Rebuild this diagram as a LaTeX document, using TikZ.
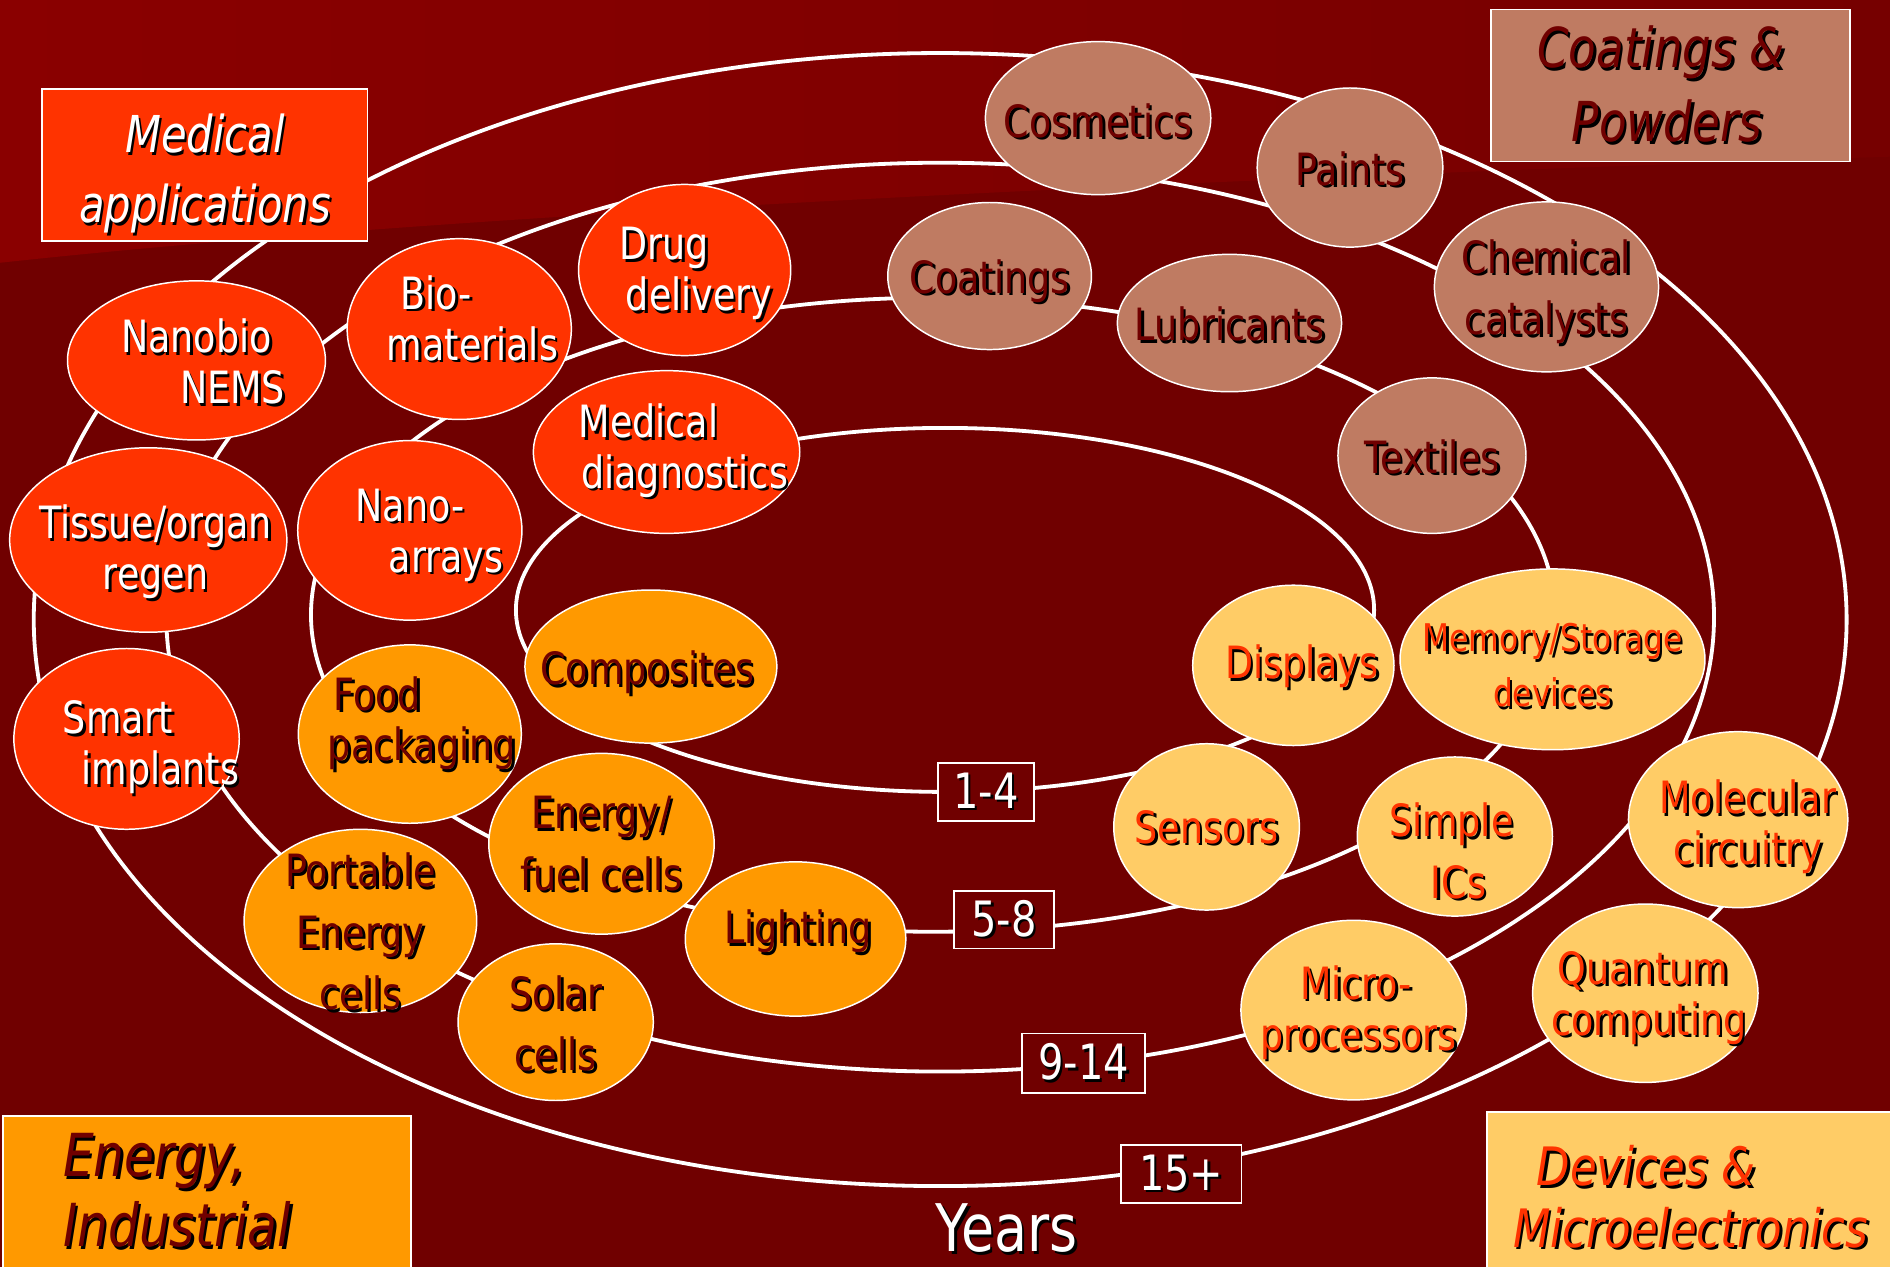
\documentclass[tikz,border=0pt]{standalone}
\usepackage{fontspec}
\setmainfont{DejaVu Sans}[FakeStretch=0.82]
\usetikzlibrary{shapes.geometric}

\definecolor{bgdark}{RGB}{112,0,0}
\definecolor{bgtopL}{RGB}{138,0,0}
\definecolor{bgtopR}{RGB}{118,0,0}
\definecolor{medfill}{RGB}{255,51,0}
\definecolor{coatfill}{RGB}{191,123,98}
\definecolor{enfill}{RGB}{255,153,0}
\definecolor{devfill}{RGB}{255,204,102}
\definecolor{darktxt}{RGB}{112,0,0}
\definecolor{devtxt}{RGB}{255,51,0}

% text with a small drop shadow
\newcommand{\shd}[1]{\rlap{\kern1.2pt\raisebox{-1.2pt}{\textcolor{black}{#1}}}#1}

\tikzset{
  bsize/.style 2 args={minimum width=#1*0.02cm, minimum height=#2*0.02cm},
  ring/.style={ellipse, draw=white, line width=1.8pt, inner sep=0pt},
  bubble/.style={ellipse, draw=white, line width=0.7pt, inner sep=0pt},
  medb/.style={bubble, fill=medfill},
  coatb/.style={bubble, fill=coatfill},
  enb/.style={bubble, fill=enfill},
  devb/.style={bubble, fill=devfill},
  btxt/.style={align=center, inner sep=0pt, font=\fontsize{21}{24}\selectfont},
  medt/.style={btxt, text=white},
  coatt/.style={btxt, text=darktxt},
  ent/.style={btxt, text=darktxt},
  devt/.style={btxt, text=devtxt},
  yearbox/.style={draw=white, line width=0.8pt, fill=bgdark, text=white, inner sep=0pt,
    font=\fontsize{23}{27}\selectfont},
  catbox/.style={draw=white, line width=0.8pt, inner sep=0pt},
  cattxt/.style={align=center, inner sep=0pt},
}

\begin{document}
\begin{tikzpicture}[x=0.02cm, y=-0.02cm]
  \useasboundingbox (0,0) rectangle (1568,1051);
  \clip (0,0) rectangle (1568,1051);
  % background
  \fill[bgdark] (0,0) rectangle (1568,1051);
  \shade[left color=bgtopL, right color=bgtopR] (0,0) -- (0,218)
    .. controls (350,180) and (900,152) .. (1568,130) -- (1568,0) -- cycle;

  % the four year rings
  \node[ring, bsize={712}{302}] (ring14) at (784,506) {};
  \node[ring, bsize={1032}{526}] (ring58) at (774,510) {};
  \node[ring, bsize={1284}{754}] (ring914) at (780,512) {};
  \node[ring, bsize={1504}{940}] (ring15) at (780,514) {};

  % medical applications
  \node[medb, bsize={214}{132}, label={[medt, yshift=-0.04cm]center:{\shd{Nanobio}\\\hspace*{1.2cm}\shd{NEMS}}}] (nanobio) at (163,299) {};
  \node[medb, bsize={186}{150}, label={[medt, xshift=-0.38cm, yshift=0.16cm]center:{\shd{Bio-}\\\hspace*{1.2cm}\shd{materials}}}] (biomat) at (381,273) {};
  \node[medb, bsize={176}{142}, label={[medt, xshift=-0.34cm, yshift=-0.08cm]center:{\shd{Drug}\\\hspace*{1.16cm}\shd{delivery}}}] (drug) at (568,224) {};
  \node[medb, bsize={221}{135}, label={[medt, xshift=-0.3cm]center:{\shd{Medical}\\\hspace*{1.2cm}\shd{diagnostics}}}] (meddiag) at (553,375) {};
  \node[medb, bsize={230}{153}, label={[medt, xshift=0.12cm, yshift=-0.22cm]center:{\shd{Tissue/organ}\\\shd{regen}}}] (tissue) at (123,448) {};
  \node[medb, bsize={186}{149}, label={[medt, yshift=-0.1cm]center:{\shd{Nano-}\\\hspace*{1.2cm}\shd{arrays}}}] (nanoarr) at (340,440) {};
  \node[medb, bsize={187}{150}, label={[medt, xshift=-0.14cm, yshift=-0.16cm]center:{\shd{Smart}\\\hspace*{1.4cm}\shd{implants}}}] (smart) at (105,613) {};

  % coatings & powders
  \node[coatb, bsize={187}{127}, label={[coatt, yshift=-0.06cm]center:{\shd{Cosmetics}}}] (cosmetics) at (911,98) {};
  \node[coatb, bsize={154}{132}, label={[coatt, yshift=-0.04cm]center:{\shd{Paints}}}] (paints) at (1120,139) {};
  \node[coatb, bsize={169}{122}, label={[coatt, yshift=-0.1cm]center:{\shd{Coatings}}}] (coatings) at (821,229) {};
  \node[coatb, bsize={186}{114}, label={[coatt, yshift=-0.04cm]center:{\shd{Lubricants}}}] (lubric) at (1020,268) {};
  \node[coatb, bsize={186}{141}, label={[coatt, yshift=-0.1cm]center:{\shd{Chemical}\\[5pt]\shd{catalysts}}}] (chemcat) at (1283,238) {};
  \node[coatb, bsize={156}{129}, label={[coatt, yshift=-0.04cm]center:{\shd{Textiles}}}] (textiles) at (1188,378) {};

  % energy, industrial
  \node[enb, bsize={209}{127}, label={[ent, xshift=-0.06cm, yshift=-0.12cm]center:{\shd{Composites}}}] (composites) at (540,553) {};
  \node[enb, bsize={185}{148}, label={[ent, xshift=-0.54cm, yshift=0.16cm]center:{\shd{Food}\\\hspace*{1.48cm}\shd{packaging}}}] (food) at (340,609) {};
  \node[enb, bsize={187}{150}, label={[ent, yshift=-0.02cm]center:{\shd{Energy/}\\[5pt]\shd{fuel cells}}}] (fuelcells) at (499,700) {};
  \node[enb, bsize={183}{128}, label={[ent, xshift=0.04cm, yshift=0.1cm]center:{\shd{Lighting}}}] (lighting) at (660,779) {};
  \node[enb, bsize={193}{152}, label={[ent, yshift=-0.2cm]center:{\shd{Portable}\\[5pt]\shd{Energy}\\[5pt]\shd{cells}}}] (portable) at (299,764) {};
  \node[enb, bsize={162}{130}, label={[ent, yshift=-0.04cm]center:{\shd{Solar}\\[5pt]\shd{cells}}}] (solar) at (461,848) {};

  % devices & microelectronics
  \node[devb, bsize={167}{133}, label={[devt, xshift=0.14cm, yshift=-0.04cm]center:{\shd{Displays}}}] (displays) at (1073,552) {};
  \node[devb, bsize={253}{150}, label={[devt, yshift=-0.12cm, font=\fontsize{18}{22}\selectfont]center:{\shd{Memory/Storage}\\[4pt]\shd{devices}}}] (memory) at (1288,547) {};
  \node[devb, bsize={154}{138}, label={[devt, yshift=-0.02cm]center:{\shd{Sensors}}}] (sensors) at (1001,686) {};
  \node[devb, bsize={162}{132}, label={[devt, xshift=-0.06cm, yshift=-0.26cm]center:{\shd{Simple}\\[5pt]\hspace*{0.24cm}\shd{ICs}}}] (simpleics) at (1207,694) {};
  \node[devb, bsize={182}{146}, label={[devt, xshift=0.16cm, yshift=-0.14cm]center:{\shd{Molecular}\\\shd{circuitry}}}] (molecular) at (1442,680) {};
  \node[devb, bsize={187}{149}, label={[devt, xshift=0.04cm, yshift=-0.06cm]center:{\shd{Micro-}\\\hspace*{0.08cm}\shd{processors}}}] (micro) at (1123,838) {};
  \node[devb, bsize={187}{148}, label={[devt, xshift=-0.04cm, yshift=-0.1cm]center:{\shd{Quantum}\\\hspace*{0.2cm}\shd{computing}}}] (quantum) at (1365,824) {};

  % year labels on the rings
  \node[yearbox, bsize={80}{48}] (yr14) at (818,657) {\shd{1-4}};
  \node[yearbox, bsize={83}{48}] (yr58) at (833,763) {\shd{5-8}};
  \node[yearbox, bsize={102}{49}] (yr914) at (899,882) {\shd{9-14}};
  \node[yearbox, bsize={100}{48}] (yr15) at (980,974) {\shd{15+}};
  \node[text=white, inner sep=0pt, font=\fontsize{31}{36}\selectfont] (years) at (835,1020) {\shd{Years}};

  % category boxes
  \node[catbox, fill=medfill, bsize={270}{126},
    label={[cattxt, text=white, yshift=-0.16cm, font=\fontsize{24}{33}\selectfont\itshape]center:{\shd{Medical}\\\shd{applications}}}] (medapp) at (170,137) {};
  \node[catbox, fill=coatfill, bsize={298}{126},
    label={[cattxt, text=darktxt, xshift=-0.16cm, font=\fontsize{26}{35}\selectfont\itshape]center:{\shd{Coatings \&}\\\hspace*{0.2cm}\shd{Powders}}}] (coatpow) at (1386,71) {};
  \node[catbox, fill=enfill, anchor=north west, bsize={338}{200},
    label={[cattxt, align=left, text=darktxt, anchor=north west, xshift=1cm, yshift=-0.3cm,
      font=\fontsize{28}{33}\selectfont\itshape]north west:{\shd{Energy,}\\\shd{Industrial}}}] (energyind) at (2,925) {};
  \node[catbox, fill=devfill, anchor=north west, bsize={360}{200},
    label={[cattxt, text=devtxt, anchor=north, xshift=-0.96cm, yshift=-0.56cm,
      font=\fontsize{25}{29}\selectfont\itshape]north:{\shd{Devices \&}\\\hspace*{1.48cm}\shd{Microelectronics}}}] (devmicro) at (1233,922) {};
\end{tikzpicture}
\end{document}
